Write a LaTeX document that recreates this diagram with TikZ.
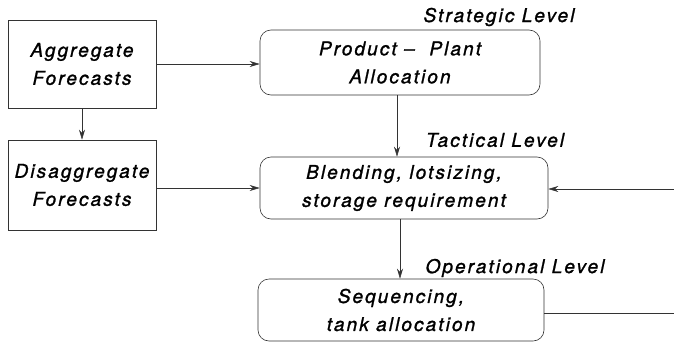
\documentclass[tikz,border=0pt]{standalone}
\usepackage{fontspec}
\newfontfamily\levelfont{TeX Gyre Heros}[LetterSpace=11.0,FakeBold=1.2]
\usetikzlibrary{arrows.meta}

\tikzset{
  fcbox/.style={draw=black!80, line width=0.6pt, rectangle, align=center,
    font=\levelfont\itshape\fontsize{19}{28}\selectfont},
  planbox/.style={fcbox, rounded corners=11pt},
  lvl/.style={font=\levelfont\itshape\fontsize{19}{22}\selectfont},
  flow/.style={draw=black!80, line width=0.6pt, -{Stealth[length=10pt,width=6pt]}}
}

\begin{document}
\begin{tikzpicture}[x=1pt,y=-1pt]
 \useasboundingbox (0,0) rectangle (674,343);

 % forecasts
 \node[fcbox, minimum width=148pt, minimum height=88pt] (agg) at (82,64)
   {Aggregate\\Forecasts};
 \node[fcbox, minimum width=148pt, minimum height=90pt] (disagg) at (82,185)
   {Disaggregate\\Forecasts};

 % planning levels
 \node[planbox, minimum width=280pt, minimum height=65pt] (ppa) at (400,62.5)
   {Product – \ Plant\\Allocation};
 \node[planbox, minimum width=288pt, minimum height=62pt] (blend) at (404,188)
   {Blending, lotsizing,\\storage requirement};
 \node[planbox, minimum width=286pt, minimum height=62pt] (seq) at (401,310)
   {Sequencing,\\tank allocation};

 \node[lvl] (strat) at (499,17) {Strategic Level};
 \node[lvl] (tact) at (495,140) {Tactical Level};
 \node[lvl] (oper) at (515,268) {Operational Level};

 \coordinate (fbin) at (674,189);
 \coordinate (fbout) at (674,313);

 \draw[flow] (agg.south) -- (disagg.north);
 \draw[flow] (agg.east |- 0,64) -- (ppa.west |- 0,64);
 \draw[flow] (disagg.east |- 0,188) -- (blend.west |- 0,188);
 \draw[flow] (397,0 |- ppa.south) -- (397,0 |- blend.north);
 \draw[flow] (400,0 |- blend.south) -- (400,0 |- seq.north);
 \draw[flow] (fbin) -- (blend.east |- fbin);
 \draw[draw=black!80, line width=0.6pt] (seq.east |- fbout) -- (fbout);
\end{tikzpicture}
\end{document}
